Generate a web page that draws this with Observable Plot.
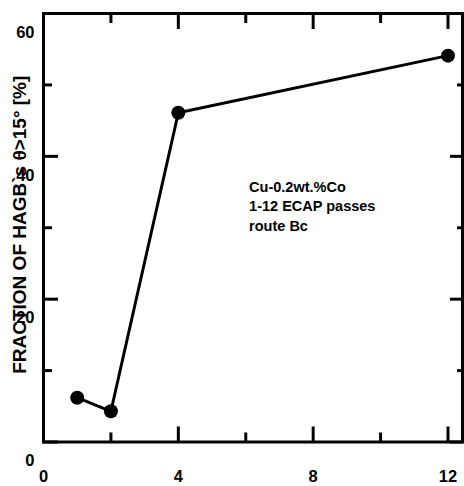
<!DOCTYPE html>
<html><head><meta charset="utf-8">
<script src="https://cdn.jsdelivr.net/npm/d3@7"></script>
<script src="https://cdn.jsdelivr.net/npm/@observablehq/plot@0.6"></script>
<style>
body{margin:0;background:#fff;}
#chart svg{font-family:"Liberation Sans",Arial,sans-serif;}
</style>
</head><body><div id="chart"></div>
<script>
const passes = [1, 2, 4, 12];
const hagbFraction = [6.2, 4.3, 46.1, 54.1];
const xMajorTicks = [0, 4, 8, 12];
const xMinorTicks = [2, 6, 10];
const yMajorTicks = [0, 20, 40, 60];
const yMinorTicks = [10, 30, 50];
const yTitle = "FRACTION OF HAGB`s θ>15° [%]";
const noteLines = ["Cu-0.2wt.%Co", "1-12 ECAP passes", "route Bc"];

const data = passes.map((p, i) => ({passes: p, fraction: hagbFraction[i]}));
const blank = () => "";
const bold = {fontSize: 16.5, fontWeight: "bold", fill: "black"};

const chart = Plot.plot({
  width: 464,
  height: 486,
  marginLeft: 43,
  marginRight: 2,
  marginTop: 13,
  marginBottom: 44.5,
  style: {background: "white", color: "black", overflow: "visible"},
  x: {domain: [0, 12.43]},
  y: {domain: [0, 60]},
  marks: [
    Plot.frame({stroke: "black", strokeWidth: 3}),
    Plot.axisX({anchor: "bottom", ticks: xMajorTicks, tickSize: 15, dy: -15, tickFormat: blank, strokeWidth: 3, label: null}),
    Plot.axisX({anchor: "bottom", ticks: xMinorTicks, tickSize: 9, dy: -9, tickFormat: blank, strokeWidth: 3, label: null}),
    Plot.axisX({anchor: "top", ticks: xMajorTicks, tickSize: 15, dy: 15, tickFormat: blank, strokeWidth: 3, label: null}),
    Plot.axisX({anchor: "top", ticks: xMinorTicks, tickSize: 9, dy: 9, tickFormat: blank, strokeWidth: 3, label: null}),
    Plot.axisY({anchor: "left", ticks: yMajorTicks, tickSize: 15, dx: 15, tickFormat: blank, strokeWidth: 3, label: null}),
    Plot.axisY({anchor: "left", ticks: yMinorTicks, tickSize: 9, dx: 9, tickFormat: blank, strokeWidth: 3, label: null}),
    Plot.axisY({anchor: "right", ticks: yMajorTicks, tickSize: 13, dx: -13, tickFormat: blank, strokeWidth: 3, label: null}),
    Plot.axisY({anchor: "right", ticks: yMinorTicks, tickSize: 6, dx: -6, tickFormat: blank, strokeWidth: 3, label: null}),
    Plot.axisX({anchor: "bottom", ticks: xMajorTicks, tickSize: 0, tickPadding: 28, label: null, ...bold}),
    Plot.axisY({anchor: "left", ticks: yMajorTicks, tickSize: 0, tickPadding: 9, dy: 19, label: null, ...bold}),
    Plot.text([yTitle], {frameAnchor: "left", textAnchor: "middle", rotate: -90, dx: -24, dy: -3, fontSize: 19, fontWeight: "bold", fill: "black"}),
    Plot.line(data, {x: "passes", y: "fraction", stroke: "black", strokeWidth: 3}),
    Plot.dot(data, {x: "passes", y: "fraction", r: 7, fill: "black", stroke: "none"}),
    Plot.text([noteLines.join("\n")], {x: 6.1, y: 37, textAnchor: "start", lineAnchor: "top", lineHeight: 1.35, fontSize: 14.5, fontWeight: "bold", fill: "black"})
  ]
});
document.getElementById("chart").appendChild(chart);
</script>
</body></html>
